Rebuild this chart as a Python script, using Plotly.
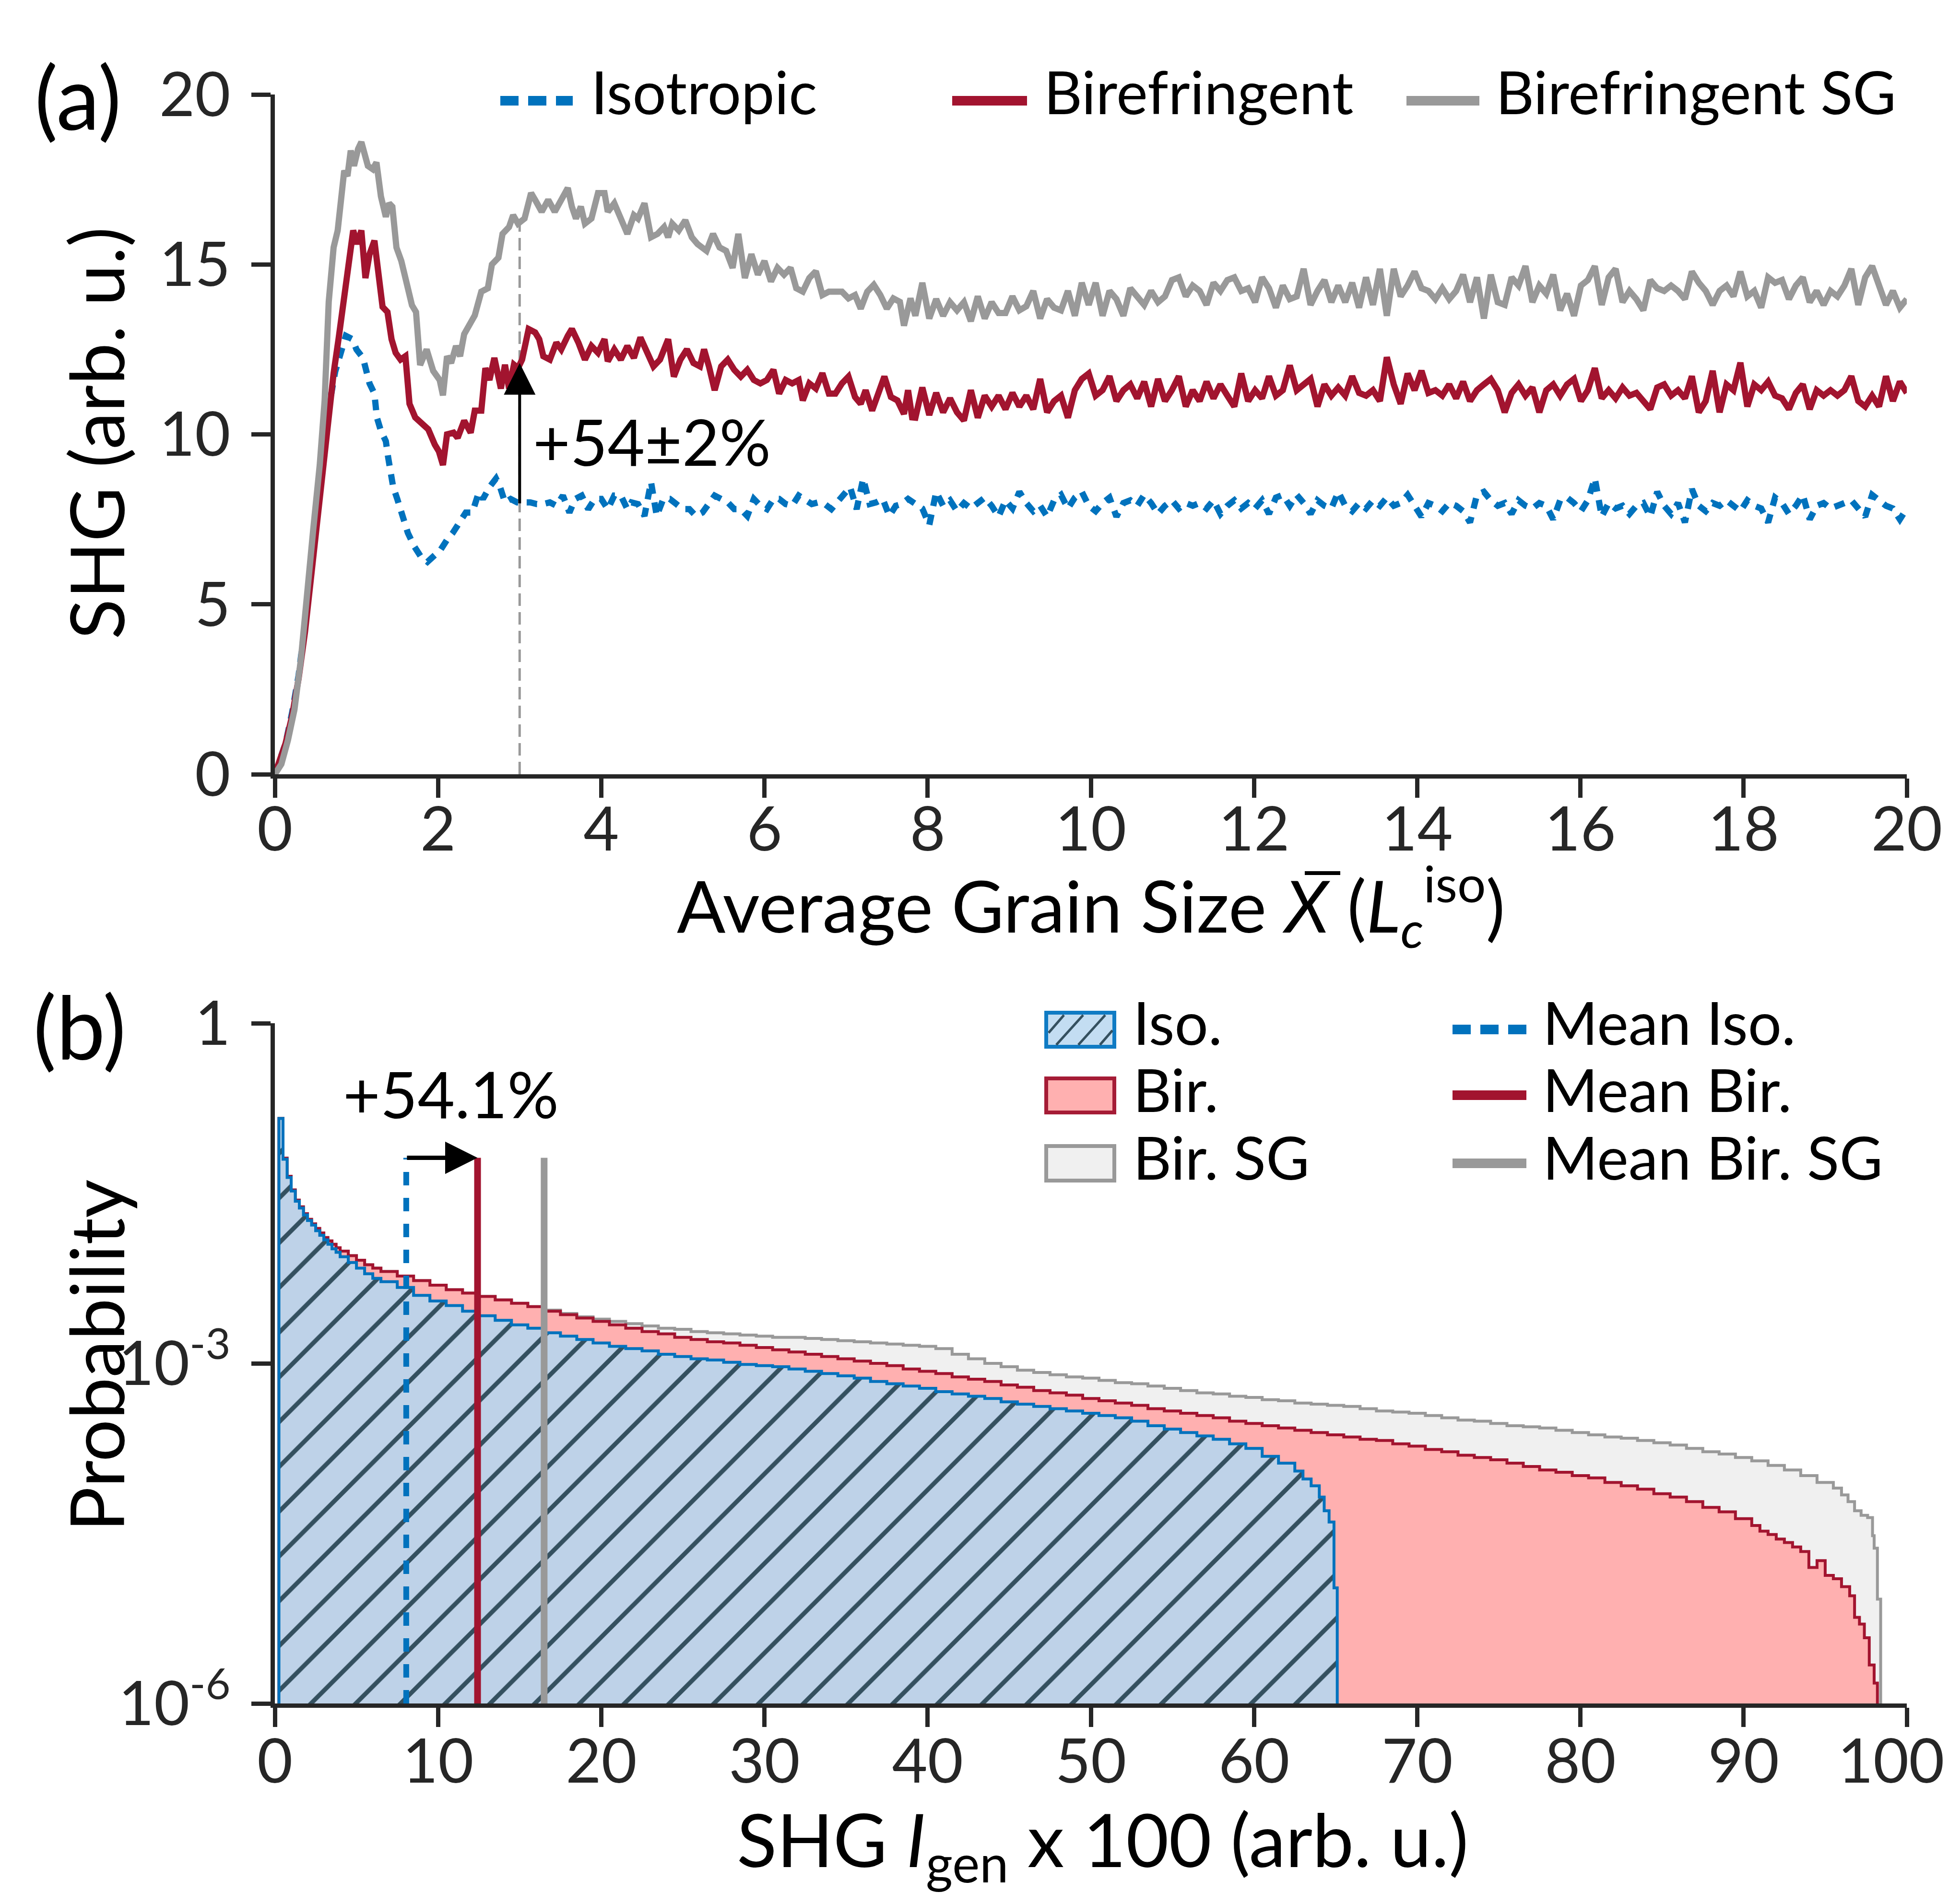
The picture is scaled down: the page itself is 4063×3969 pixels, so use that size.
import numpy as np
import plotly.graph_objects as go

W, H = 4063, 3969
FONT = "Lato, 'Noto Sans', sans-serif"
BLUE = "#0072BD"
RED = "#A2142F"
GRAY = "#999999"
INK = "#262626"
ISO_FILL = "#BED2E8"
BIR_FILL = "#FFB0B0"
SG_FILL = "#F0F0F0"
HATCH = "#34505F"

# ---------------- panel (a): SHG vs average grain size ----------------
iso_x_early = [0, 0.13, 0.21, 0.29, 0.37, 0.45, 0.53, 0.61, 0.67, 0.74,
               0.82, 0.87, 0.95, 1.0, 1.08, 1.11, 1.16, 1.22, 1.25, 1.30,
               1.36, 1.39, 1.45, 1.50, 1.55, 1.63, 1.71, 1.79, 1.87, 1.95,
               2.03, 2.11, 2.18, 2.26, 2.34, 2.42, 2.50, 2.55, 2.63, 2.71,
               2.76, 2.82, 2.89, 2.97, 3.05, 3.13, 3.21, 3.29, 3.37, 3.45,
               3.53, 3.61, 3.68, 3.76, 3.84, 3.92, 4.0, 4.08, 4.16, 4.24,
               4.32, 4.37, 4.45, 4.53, 4.61, 4.68, 4.76, 4.84, 4.92, 5.0,
               5.08, 5.16, 5.24, 5.32, 5.39, 5.47, 5.55, 5.63, 5.71, 5.79,
               5.87, 5.95, 6.03, 6.11, 6.18, 6.26, 6.34, 6.42, 6.50, 6.58,
               6.66, 6.74, 6.82, 6.89, 6.97, 7.05, 7.13, 7.21, 7.29, 7.37,
               7.45, 7.53, 7.61, 7.68, 7.76]
iso_y_early = [0, 0.9, 1.8, 2.9, 4.4, 6.1, 8.0, 9.8, 10.9, 11.85,
               12.6, 12.9, 12.8, 12.5, 12.25, 12.0, 11.5, 11.2, 10.5, 10.1,
               9.8, 9.3, 8.45, 8.1, 7.7, 7.1, 6.7, 6.4, 6.25, 6.4,
               6.6, 6.9, 7.1, 7.4, 7.7, 7.7, 8.3, 8.1, 8.45, 8.7,
               8.45, 8.0, 8.1, 8.0, 8.0, 8.0, 7.95, 7.95, 8.0, 7.9,
               8.2, 7.7, 8.1, 8.2, 7.8, 8.1, 8.1, 7.8, 8.2, 8.2,
               7.8, 8.0, 7.95, 7.6, 8.6, 7.6, 8.1, 8.1, 7.95, 7.8,
               7.8, 7.6, 7.7, 7.95, 8.2, 8.1, 8.0, 7.8, 7.8, 7.6,
               8.1, 7.9, 7.8, 8.1, 8.1, 7.95, 7.9, 8.2, 8.1, 7.95,
               8.0, 7.95, 7.8, 8.0, 8.2, 8.45, 7.8, 8.7, 7.95, 8.0,
               8.1, 7.6, 7.9, 7.95, 8.1]

bir_x_early = [0, 0.13, 0.21, 0.29, 0.37, 0.45, 0.53, 0.61, 0.67, 0.72,
               0.78, 0.825, 0.90, 0.96, 1.01, 1.06, 1.11, 1.16, 1.22, 1.27,
               1.32, 1.38, 1.43, 1.48, 1.54, 1.60, 1.65, 1.72, 1.80, 1.88,
               1.96, 2.01, 2.06, 2.11, 2.19, 2.24, 2.32, 2.40, 2.45, 2.53,
               2.58, 2.63, 2.69, 2.77, 2.82, 2.87, 2.93, 2.98, 3.03, 3.11,
               3.19, 3.24, 3.29, 3.37, 3.45, 3.51, 3.59, 3.64, 3.72, 3.80,
               3.88, 3.96, 4.04, 4.08, 4.16, 4.24, 4.32, 4.40, 4.48, 4.56,
               4.64, 4.72, 4.82, 4.89, 4.97, 5.05, 5.13, 5.21, 5.26, 5.32,
               5.39, 5.47, 5.55, 5.63, 5.71, 5.79, 5.87, 5.95, 6.03, 6.11,
               6.18, 6.26, 6.34, 6.42, 6.47, 6.55, 6.63, 6.71, 6.79, 6.87,
               6.95, 7.03, 7.11, 7.18, 7.24, 7.32, 7.39, 7.47, 7.55, 7.63,
               7.71, 7.76, 7.81]
bir_y_early = [0, 0.9, 1.7, 2.8, 4.2, 5.9, 7.8, 9.7, 10.9, 11.8,
               12.8, 13.67, 15.0, 16.0, 15.6, 16.0, 14.6, 15.3, 15.7, 14.57,
               13.75, 13.6, 12.8, 12.4, 12.2, 12.3, 10.9, 10.5, 10.35, 10.15,
               9.7, 9.5, 9.1, 10.0, 10.05, 9.9, 10.4, 10.05, 10.7, 10.7,
               11.95, 11.6, 12.25, 11.35, 12.05, 11.35, 12.05, 11.95, 12.2, 13.1,
               13.0, 12.8, 12.3, 12.2, 12.7, 12.5, 12.9, 13.1, 12.7, 12.2,
               12.6, 12.4, 12.8, 12.15, 12.5, 12.2, 12.6, 12.25, 12.85, 12.4,
               12.0, 12.2, 12.8, 11.7, 12.2, 12.5, 12.1, 12.0, 12.5, 12.0,
               11.3, 12.0, 12.2, 11.9, 11.7, 11.9, 11.6, 11.5, 11.6, 11.9,
               11.2, 11.6, 11.5, 11.6, 11.0, 11.5, 11.35, 11.8, 11.2, 11.2,
               11.5, 11.7, 11.1, 10.9, 11.3, 10.7, 11.2, 11.7, 11.1, 11.0,
               10.6, 11.3, 10.5]

sg_x_early = [0, 0.08, 0.16, 0.24, 0.32, 0.39, 0.47, 0.55, 0.61, 0.66,
              0.72, 0.77, 0.81, 0.85, 0.89, 0.93, 0.97, 1.02, 1.06, 1.10,
              1.14, 1.20, 1.245, 1.30, 1.36, 1.40, 1.44, 1.49, 1.55, 1.60,
              1.68, 1.73, 1.78, 1.86, 1.94, 2.02, 2.06, 2.11, 2.16, 2.22,
              2.27, 2.32, 2.37, 2.45, 2.53, 2.61, 2.66, 2.74, 2.79, 2.87,
              2.92, 2.98, 3.06, 3.14, 3.19, 3.27, 3.35, 3.43, 3.51, 3.59,
              3.64, 3.69, 3.75, 3.80, 3.88, 3.96, 4.04, 4.08, 4.16, 4.24,
              4.32, 4.40, 4.45, 4.53, 4.61, 4.69, 4.77, 4.82, 4.87, 4.95,
              5.03, 5.11, 5.18, 5.29, 5.37, 5.45, 5.53, 5.61, 5.68, 5.76,
              5.84, 5.92, 6.0, 6.08, 6.16, 6.24, 6.32, 6.39, 6.47, 6.55,
              6.63, 6.71, 6.79, 6.87, 6.95, 7.03, 7.11, 7.18, 7.26, 7.34,
              7.42, 7.5, 7.58, 7.66, 7.71, 7.79]
sg_y_early = [0, 0.3, 1.0, 1.9, 3.4, 5.3, 7.2, 9.1, 11.0, 13.9,
              15.5, 16.0, 16.9, 17.76, 17.6, 18.35, 17.9, 18.4, 18.6, 18.3,
              17.9, 17.8, 18.0, 17.0, 16.4, 16.8, 16.7, 15.5, 15.1, 14.6,
              13.8, 13.6, 12.04, 12.5, 11.87, 11.6, 11.15, 12.3, 12.1, 12.6,
              12.3, 12.95, 13.2, 13.5, 14.2, 14.3, 15.0, 15.2, 15.9, 16.1,
              16.45, 16.2, 16.35, 17.1, 16.9, 16.55, 16.9, 16.55, 16.9, 17.25,
              16.7, 16.35, 16.7, 16.2, 16.35, 17.1, 17.1, 16.55, 16.8, 16.35,
              15.9, 16.45, 16.35, 16.8, 15.8, 15.9, 16.1, 15.8, 16.2, 16.0,
              16.3, 15.8, 15.6, 15.4, 15.9, 15.5, 15.4, 14.9, 15.9, 14.6,
              15.3, 14.7, 15.1, 14.5, 14.9, 14.7, 14.9, 14.3, 14.2, 14.6,
              14.8, 14.1, 14.2, 14.2, 14.2, 14.0, 14.1, 13.7, 14.2, 14.4,
              14.1, 13.7, 14.0, 13.9, 13.2, 14.0]

# uniform sampling grid of the plateau region (x = 7.85 ... 20)
plateau_x = np.linspace(7.85, 20.0, 144)
iso_y_plateau = [7.98, 7.82, 7.33, 8.31, 7.90, 8.06, 7.74, 7.98, 7.82, 7.98,
                 8.14, 7.90, 7.58, 8.06, 7.82, 8.31, 7.98, 7.74, 7.90, 7.58,
                 8.06, 8.22, 7.82, 8.14, 8.31, 7.90, 7.74, 7.98, 8.14, 7.58,
                 7.98, 8.06, 7.90, 8.22, 7.98, 7.66, 7.90, 8.06, 7.82, 7.98,
                 7.90, 7.98, 7.82, 8.06, 7.66, 7.90, 8.06, 7.82, 7.98, 7.82,
                 8.06, 7.66, 8.14, 8.22, 7.90, 8.22, 7.98, 7.66, 8.06, 7.90,
                 7.82, 8.31, 7.90, 7.74, 7.98, 7.82, 8.06, 7.90, 8.14, 7.90,
                 7.98, 8.22, 7.90, 7.58, 7.98, 7.90, 7.74, 7.98, 7.90, 7.74,
                 7.41, 8.22, 8.31, 8.06, 7.90, 7.98, 7.66, 8.06, 7.90, 7.82,
                 7.98, 7.90, 7.50, 8.06, 8.14, 7.98, 7.74, 8.06, 8.71, 7.58,
                 7.98, 7.82, 7.90, 7.66, 7.90, 7.98, 7.58, 8.31, 7.90, 7.66,
                 7.98, 7.41, 8.39, 7.90, 7.74, 7.98, 7.90, 8.06, 7.90, 7.74,
                 8.06, 7.90, 7.82, 7.41, 8.14, 7.98, 7.66, 7.90, 8.22, 7.50,
                 7.90, 7.98, 7.82, 7.90, 7.98, 8.06, 7.82, 7.58, 8.22, 8.06,
                 7.90, 7.82, 7.50, 7.82]
bir_y_plateau = [10.49, 11.38, 10.57, 11.22, 10.65, 11.06, 10.65, 10.41, 11.30, 10.49,
                 11.14, 10.82, 11.14, 10.74, 11.22, 10.82, 11.14, 10.74, 11.63, 10.65,
                 10.98, 11.14, 10.49, 11.30, 11.63, 11.79, 11.14, 11.30, 11.71, 10.98,
                 11.30, 11.47, 11.06, 11.55, 10.82, 11.63, 10.98, 11.30, 11.71, 10.82,
                 11.30, 10.98, 11.55, 11.06, 11.47, 11.14, 10.82, 11.79, 10.98, 11.30,
                 11.06, 11.71, 11.14, 11.30, 12.03, 11.30, 11.47, 11.63, 10.82, 11.47,
                 11.14, 11.38, 11.14, 11.71, 11.22, 11.14, 11.30, 10.98, 12.27, 11.47,
                 10.90, 11.79, 11.30, 11.87, 11.22, 11.30, 11.14, 11.47, 11.06, 11.55,
                 10.98, 11.30, 11.47, 11.63, 11.30, 10.65, 11.22, 11.47, 11.14, 11.38,
                 10.65, 11.30, 11.47, 11.14, 11.47, 11.63, 10.98, 11.30, 11.95, 11.06,
                 11.30, 11.06, 11.38, 11.14, 11.22, 10.98, 10.74, 11.38, 11.47, 11.14,
                 11.30, 11.06, 11.71, 10.65, 10.98, 11.87, 10.65, 11.47, 11.30, 12.11,
                 10.82, 11.47, 11.30, 11.55, 11.14, 11.06, 10.74, 11.22, 11.47, 10.74,
                 11.30, 11.14, 11.30, 11.14, 11.30, 11.71, 10.98, 10.82, 11.14, 10.82,
                 11.71, 10.98, 11.55, 11.22]
sg_y_plateau = [13.49, 14.46, 13.41, 13.98, 13.49, 13.89, 13.65, 13.89, 13.33, 14.06,
                13.41, 13.89, 13.57, 13.57, 14.06, 13.65, 13.77, 14.22, 13.41, 13.98,
                13.73, 13.65, 14.22, 13.49, 14.46, 13.81, 14.46, 13.49, 14.22, 13.98,
                13.49, 14.30, 14.06, 13.81, 14.22, 13.89, 14.06, 14.54, 14.62, 14.06,
                14.38, 14.22, 13.81, 14.46, 14.22, 14.54, 14.62, 14.22, 14.30, 13.89,
                14.62, 14.30, 13.73, 14.38, 13.98, 14.06, 14.87, 13.81, 14.22, 14.54,
                13.89, 14.38, 13.89, 14.46, 13.73, 14.62, 13.81, 14.87, 13.49, 14.87,
                14.06, 14.38, 14.79, 14.30, 14.22, 13.98, 14.30, 13.98, 14.22, 14.70,
                13.89, 14.62, 13.41, 14.70, 13.89, 13.81, 14.62, 14.38, 14.95, 13.89,
                14.38, 14.14, 14.70, 13.65, 14.14, 13.49, 14.38, 14.54, 14.95, 13.81,
                14.62, 14.87, 13.89, 14.22, 13.98, 13.65, 14.54, 14.30, 14.22, 14.38,
                14.22, 13.98, 14.79, 14.46, 14.22, 13.81, 14.22, 14.38, 14.06, 14.79,
                14.06, 14.22, 13.73, 14.62, 14.46, 14.54, 13.98, 14.38, 14.62, 13.89,
                14.22, 13.81, 14.22, 14.06, 14.38, 14.87, 13.81, 14.62, 14.95, 14.38,
                13.81, 14.22, 13.73, 13.98]

marker_x = 3.0           # grain size where the enhancement is marked
marker_iso = 7.95        # isotropic SHG at marker_x
marker_bir = 12.1        # birefringent SHG at marker_x
marker_sg = 16.3         # birefringent SG SHG at marker_x

# ---------------- panel (b): probability distributions (log10 P) ----------------
early_edges = [0.25, 0.5, 0.75, 1.0, 1.25, 1.5, 1.75, 2.0, 2.25, 2.5,
               2.75, 3.0, 3.25, 3.5, 3.75, 4.0, 4.5, 5.0, 5.5, 6.0]
iso_logp_early = [-0.84, -1.20, -1.36, -1.48, -1.57, -1.63, -1.69, -1.74, -1.78, -1.83,
                  -1.87, -1.91, -1.95, -1.99, -2.02, -2.06, -2.11, -2.16, -2.21, -2.25]
bir_logp_early = [-0.84, -1.19, -1.35, -1.47, -1.56, -1.62, -1.68, -1.73, -1.77, -1.81,
                  -1.85, -1.89, -1.92, -1.95, -1.98, -2.01, -2.05, -2.09, -2.13, -2.16]
sg_logp_early = [-0.84, -1.19, -1.35, -1.47, -1.56, -1.62, -1.68, -1.73, -1.77, -1.81,
                 -1.85, -1.89, -1.92, -1.95, -1.98, -2.01, -2.05, -2.09, -2.13, -2.16]

iso_mid_edges = np.arange(6.5, 63.0, 1.0)
iso_logp_mid = [-2.28, -2.33, -2.40, -2.45, -2.49, -2.54, -2.58, -2.62, -2.66, -2.69,
                -2.73, -2.76, -2.79, -2.82, -2.85, -2.87, -2.89, -2.92, -2.94, -2.96,
                -2.97, -2.99, -3.01, -3.02, -3.03, -3.05, -3.07, -3.09, -3.11, -3.13,
                -3.16, -3.18, -3.20, -3.22, -3.25, -3.27, -3.29, -3.31, -3.34, -3.36,
                -3.38, -3.40, -3.42, -3.44, -3.46, -3.48, -3.51, -3.55, -3.58, -3.61,
                -3.64, -3.67, -3.71, -3.75, -3.82, -3.88, -3.95]
iso_tail_edges = [63.0, 63.5, 64.0, 64.3, 64.6, 64.9]
iso_logp_tail = [-4.02, -4.08, -4.18, -4.30, -4.40, -4.98]
iso_max = 65.1

bir_mid_edges = np.arange(6.5, 89.0, 1.0)
bir_logp_mid = [-2.19, -2.23, -2.27, -2.31, -2.35, -2.38, -2.41, -2.44, -2.47, -2.50,
                -2.54, -2.57, -2.60, -2.63, -2.66, -2.69, -2.72, -2.74, -2.77, -2.79,
                -2.81, -2.82, -2.84, -2.86, -2.88, -2.90, -2.92, -2.94, -2.96, -2.98,
                -3.00, -3.02, -3.05, -3.07, -3.09, -3.12, -3.14, -3.16, -3.19, -3.21,
                -3.24, -3.26, -3.28, -3.31, -3.33, -3.35, -3.37, -3.40, -3.42, -3.44,
                -3.46, -3.48, -3.51, -3.53, -3.55, -3.57, -3.59, -3.61, -3.63, -3.65,
                -3.67, -3.68, -3.71, -3.73, -3.76, -3.78, -3.81, -3.83, -3.85, -3.88,
                -3.91, -3.94, -3.96, -3.99, -4.01, -4.05, -4.08, -4.11, -4.15, -4.18,
                -4.22, -4.27, -4.31]
bir_tail_edges = [89.5, 90.5, 91.0, 91.5, 92.0, 92.5, 93.0, 93.5, 94.0, 94.5,
                  95.0, 95.5, 96.0, 96.5, 96.8, 97.1, 97.4, 97.7, 98.0]
bir_logp_tail = [-4.37, -4.43, -4.48, -4.51, -4.55, -4.58, -4.62, -4.66, -4.80, -4.74,
                 -4.87, -4.90, -4.97, -5.05, -5.24, -5.30, -5.42, -5.66, -5.82]
bir_max = 98.2

sg_mid_edges = np.arange(6.5, 96.0, 1.0)
sg_logp_mid = [-2.19, -2.23, -2.27, -2.31, -2.35, -2.38, -2.41, -2.44, -2.47, -2.50,
               -2.53, -2.56, -2.59, -2.61, -2.63, -2.65, -2.67, -2.69, -2.70, -2.72,
               -2.73, -2.74, -2.75, -2.76, -2.77, -2.77, -2.78, -2.79, -2.80, -2.81,
               -2.82, -2.83, -2.84, -2.85, -2.87, -2.92, -2.96, -3.00, -3.03, -3.06,
               -3.08, -3.10, -3.12, -3.13, -3.15, -3.17, -3.18, -3.20, -3.22, -3.24,
               -3.26, -3.27, -3.29, -3.30, -3.32, -3.33, -3.35, -3.36, -3.37, -3.38,
               -3.40, -3.42, -3.43, -3.44, -3.46, -3.48, -3.50, -3.51, -3.53, -3.55,
               -3.56, -3.57, -3.59, -3.61, -3.63, -3.65, -3.66, -3.68, -3.70, -3.72,
               -3.75, -3.78, -3.80, -3.83, -3.86, -3.90, -3.94, -3.99, -4.05, -4.10]
sg_tail_edges = [96.0, 96.4, 96.8, 97.2, 97.6, 97.9, 98.0, 98.2]
sg_logp_tail = [-4.16, -4.22, -4.30, -4.34, -4.36, -4.52, -4.63, -5.08]
sg_max = 98.4

iso_mean = 8.05
bir_mean = 12.42
sg_mean = 16.5
mean_top = 0.065
P_FLOOR = 1e-7

# tick values / labels
xa_ticks = list(range(0, 21, 2))
ya_ticks = [0, 5, 10, 15, 20]
xb_ticks = list(range(0, 101, 10))
# trailing no-break spaces nudge the last label inward so it stays inside the page
xb_ticklabels = ["0", "10", "20", "30", "40", "50", "60", "70", "80", "90",
                 "100\u00a0\u00a0"]
yb_ticks = [1e-6, 1e-3, 1]
yb_ticklabels = ["10<sup>-6</sup>", "10<sup>-3</sup>", "1"]

# ---------------- geometry (paper fractions, margins are zero) ----------------
def px(x):
    return x / W


def py(y):
    return 1 - y / H


X_DOM = [px(565), px(3967)]
YA_DOM = [py(1606), py(189)]
YB_DOM = [py(3543), py(2125)]

fig = go.Figure()

# panel (a) lines
iso_x = iso_x_early + list(plateau_x)
iso_y = iso_y_early + iso_y_plateau
bir_x = bir_x_early + list(plateau_x)
bir_y = bir_y_early + bir_y_plateau
sg_x = sg_x_early + list(plateau_x)
sg_y = sg_y_early + sg_y_plateau

fig.add_trace(go.Scatter(x=[marker_x, marker_x], y=[0, marker_sg], mode="lines",
                         line=dict(color=GRAY, width=5, dash="26px,13px"),
                         xaxis="x", yaxis="y", showlegend=False, hoverinfo="skip"))
fig.add_trace(go.Scatter(x=iso_x, y=iso_y, mode="lines", name="Isotropic",
                         line=dict(color=BLUE, width=13, dash="22px,18px"),
                         xaxis="x", yaxis="y", showlegend=False))
fig.add_trace(go.Scatter(x=bir_x, y=bir_y, mode="lines", name="Birefringent",
                         line=dict(color=RED, width=13),
                         xaxis="x", yaxis="y", showlegend=False))
fig.add_trace(go.Scatter(x=sg_x, y=sg_y, mode="lines", name="Birefringent SG",
                         line=dict(color=GRAY, width=13),
                         xaxis="x", yaxis="y", showlegend=False))


# panel (b) step histograms
def step_path(edges, logp, x_end):
    xs = [edges[0]] + list(edges) + [x_end]
    ys = [P_FLOOR] + [10.0 ** v for v in logp] + [P_FLOOR]
    return xs, ys


sg_xs, sg_ps = step_path(early_edges + list(sg_mid_edges) + sg_tail_edges,
                         sg_logp_early + sg_logp_mid + sg_logp_tail, sg_max)
bir_xs, bir_ps = step_path(early_edges + list(bir_mid_edges) + bir_tail_edges,
                           bir_logp_early + bir_logp_mid + bir_logp_tail, bir_max)
iso_xs, iso_ps = step_path(early_edges + list(iso_mid_edges) + iso_tail_edges,
                           iso_logp_early + iso_logp_mid + iso_logp_tail, iso_max)

fig.add_trace(go.Scatter(x=sg_xs, y=sg_ps, mode="lines", line_shape="hv",
                         line=dict(color=GRAY, width=6), fill="toself", fillcolor=SG_FILL,
                         xaxis="x2", yaxis="y2", showlegend=False, name="Bir. SG"))
fig.add_trace(go.Scatter(x=bir_xs, y=bir_ps, mode="lines", line_shape="hv",
                         line=dict(color=RED, width=6), fill="toself", fillcolor=BIR_FILL,
                         xaxis="x2", yaxis="y2", showlegend=False, name="Bir."))
fig.add_trace(go.Scatter(x=iso_xs, y=iso_ps, mode="lines", line_shape="hv",
                         line=dict(color=BLUE, width=6), fill="toself", fillcolor=ISO_FILL,
                         fillpattern=dict(shape="/", bgcolor=ISO_FILL, fgcolor=HATCH,
                                          size=66, solidity=0.14, fillmode="replace"),
                         xaxis="x2", yaxis="y2", showlegend=False, name="Iso."))

fig.add_trace(go.Scatter(x=[iso_mean, iso_mean], y=[1e-6, mean_top], mode="lines",
                         line=dict(color=BLUE, width=12, dash="28px,26px"),
                         xaxis="x2", yaxis="y2", showlegend=False, name="Mean Iso."))
fig.add_trace(go.Scatter(x=[bir_mean, bir_mean], y=[1e-6, mean_top], mode="lines",
                         line=dict(color=RED, width=14),
                         xaxis="x2", yaxis="y2", showlegend=False, name="Mean Bir."))
fig.add_trace(go.Scatter(x=[sg_mean, sg_mean], y=[1e-6, mean_top], mode="lines",
                         line=dict(color=GRAY, width=14),
                         xaxis="x2", yaxis="y2", showlegend=False, name="Mean Bir. SG"))

axis_common = dict(showline=True, linecolor=INK, linewidth=9, ticks="outside",
                   ticklen=40, tickwidth=9, tickcolor=INK, showgrid=False,
                   zeroline=False, automargin=False, ticklabeloverflow="allow",
                   tickfont=dict(family=FONT, size=128, color=INK))

fig.update_layout(
    template="none",
    width=W, height=H, margin=dict(l=0, r=0, t=0, b=0, pad=0, autoexpand=False),
    paper_bgcolor="white", plot_bgcolor="white", showlegend=False,
    font=dict(family=FONT, color="black"),
    xaxis=dict(domain=X_DOM, range=[0, 20], tickvals=xa_ticks,
               anchor="y", ticklabelstandoff=-44, **axis_common),
    yaxis=dict(domain=YA_DOM, range=[0, 20], tickvals=ya_ticks,
               anchor="x", ticklabelstandoff=18, **axis_common),
    xaxis2=dict(domain=X_DOM, range=[0, 100], tickvals=xb_ticks, ticktext=xb_ticklabels,
                anchor="y2", ticklabelstandoff=-38, **axis_common),
    yaxis2=dict(domain=YB_DOM, type="log", range=[-6, 0], tickvals=yb_ticks,
                ticktext=yb_ticklabels, anchor="x2", ticklabelstandoff=18, **axis_common),
)

ann = []
shapes = []


def label(text, x, y, size, angle=0, xanchor="center", yanchor="middle"):
    return dict(text=text, x=px(x), y=py(y), xref="paper", yref="paper",
                xanchor=xanchor, yanchor=yanchor, textangle=angle, showarrow=False,
                font=dict(size=size, color="black", family=FONT))


# panel labels and axis titles
ann.append(label("(a)", 154, 192, 182))
ann.append(label("(b)", 158, 2130, 182))
ann.append(label("SHG (arb. u.)", 190, 895, 156, angle=-90))
ann.append(label("Probability", 190, 2818, 156, angle=-90))
ann.append(label("Average Grain Size <i>X</i> (<i>L</i><sub><i>c</i></sub><sup>iso</sup>)",
                 2266, 1880, 150))
# overbar of the mean grain size symbol
shapes.append(dict(type="line", xref="paper", yref="paper", x0=px(2712), x1=px(2786),
                   y0=py(1812), y1=py(1812), line=dict(color="black", width=8)))
ann.append(label("SHG <i>I</i><sub>gen</sub> x 100 (arb. u.)", 2290, 3835, 154))

# enhancement arrows / labels
ann.append(dict(x=marker_x, y=marker_bir, ax=marker_x, ay=marker_iso, xref="x", yref="y",
                axref="x", ayref="y", text="", showarrow=True, arrowhead=2,
                arrowsize=2.2, arrowwidth=6, arrowcolor="black"))
ann.append(dict(x=3.15, y=9.8, xref="x", yref="y", text="+54\u00b12%", showarrow=False,
                xanchor="left", yanchor="middle", font=dict(size=134, color="black", family=FONT)))
ann.append(dict(x=bir_mean, y=np.log10(mean_top), ax=iso_mean, ay=np.log10(mean_top),
                xref="x2", yref="y2", axref="x2", ayref="y2", text="", showarrow=True,
                arrowhead=2, arrowsize=1.5, arrowwidth=9, arrowcolor="black"))
ann.append(dict(x=10.8, y=-0.62, xref="x2", yref="y2", text="+54.1%", showarrow=False,
                xanchor="center", yanchor="middle", font=dict(size=134, color="black", family=FONT)))

# legend (a)
leg_a = [("Isotropic", BLUE, "38px,20px", 1035, 1186, 1222),
         ("Birefringent", RED, "solid", 1977, 2133, 2166),
         ("Birefringent SG", GRAY, "solid", 2924, 3076, 3108)]
for text, col, dash, x0, x1, tx in leg_a:
    shapes.append(dict(type="line", xref="paper", yref="paper", x0=px(x0), x1=px(x1),
                       y0=py(202), y1=py(202), line=dict(color=col, width=20, dash=dash)))
    ann.append(label(text, tx, 182, 124, xanchor="left"))

# legend (b) patches
leg_b_patch = [("Iso.", "#C3DDF2", "#0F7BC4", 2099, 2178, 2122),
               ("Bir.", BIR_FILL, "#A51C36", 2236, 2315, 2262),
               ("Bir. SG", SG_FILL, GRAY, 2377, 2457, 2403)]
for text, fc, ec, y0, y1, ty in leg_b_patch:
    shapes.append(dict(type="rect", xref="paper", yref="paper", x0=px(2173), x1=px(2315),
                       y0=py(y0 + 4), y1=py(y1 - 4), fillcolor=fc, line=dict(color=ec, width=8)))
    ann.append(label(text, 2352, ty, 124, xanchor="left"))
for (hx0, hy0, hx1, hy1) in [(2178, 2145, 2210, 2108), (2194, 2170, 2250, 2108),
                             (2240, 2170, 2296, 2108), (2285, 2170, 2311, 2140)]:
    shapes.append(dict(type="line", xref="paper", yref="paper", x0=px(hx0), y0=py(hy0),
                       x1=px(hx1), y1=py(hy1), line=dict(color=HATCH, width=5)))

leg_b_line = [("Mean Iso.", BLUE, "38px,20px", 2138, 2122),
              ("Mean Bir.", RED, "solid", 2275, 2262),
              ("Mean Bir. SG", GRAY, "solid", 2417, 2403)]
for text, col, dash, ly, ty in leg_b_line:
    shapes.append(dict(type="line", xref="paper", yref="paper", x0=px(3020), x1=px(3174),
                       y0=py(ly), y1=py(ly), line=dict(color=col, width=20, dash=dash)))
    ann.append(label(text, 3206, ty, 124, xanchor="left"))

fig.update_layout(annotations=ann, shapes=shapes)
fig.write_html("out.html")
